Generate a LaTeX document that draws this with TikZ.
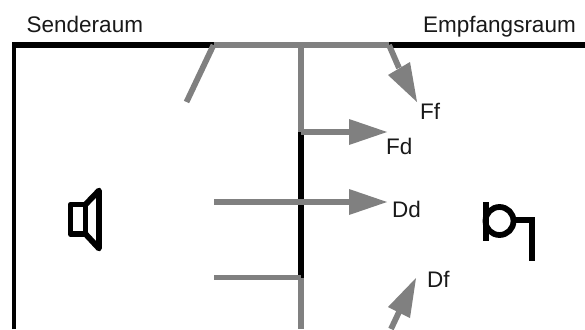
\documentclass[tikz,border=0pt]{standalone}
\usepackage{fontspec}
\setmainfont{Liberation Sans}
\begin{document}
\begin{tikzpicture}[x=1pt,y=-1pt,
  wallblack/.style={draw=black,line width=5.8pt},
  sidewall/.style={draw=black,line width=3.8pt},
  path gray/.style={draw=pathgray,line width=5.8pt},
  head/.style={fill=pathgray,draw=none},
  symbol/.style={draw=black,line width=5.8pt,line join=round},
  lbl/.style={anchor=base west,inner sep=0pt,font=\fontsize{22.5}{25}\selectfont,text=black!90}]
\definecolor{pathgray}{HTML}{808080}
\useasboundingbox (0,0) rectangle (585,329);
\fill[white] (0,0) rectangle (585,329);
% named points
\coordinate (tl) at (14.2,45);
\coordinate (bl) at (14.2,329);
\coordinate (fa) at (213.5,45);
\coordinate (fb) at (389,45);
\coordinate (tr) at (585,45);
\coordinate (wt) at (301,45);
\coordinate (wd) at (301,132);
\coordinate (wf) at (301,277.5);
\coordinate (wb) at (301,329);
\coordinate (fend) at (186.5,102);
\coordinate (fdend) at (350,132);
\coordinate (ddstart) at (214,202);
\coordinate (ddend) at (350,202);
\coordinate (dfstart) at (214,277.5);
\coordinate (ffend) at (399,68);
\coordinate (dfa) at (391,329);
\coordinate (dfb) at (399,312);
% black walls
\draw[sidewall] (bl) -- (tl);
\draw[wallblack] (12.3,45) -- (fa);
\draw[wallblack] (fb) -- (tr);
\draw[wallblack] (wd) -- (wf);
% gray paths
\draw[path gray] (fa) -- (fb);
\draw[path gray] (wt) -- (wd);
\draw[path gray] (fa) -- (fend);
\draw[path gray] (wf) -- (wb);
\draw[path gray] (wd) -- (fdend);
\draw[path gray] (ddstart) -- (ddend);
\draw[path gray] (dfstart) -- (wf);
\draw[path gray] (fb) -- (ffend);
\draw[path gray] (dfa) -- (dfb);
% arrow heads
\fill[head] (417,102) -- (388,75) -- (410,62) -- cycle;
\fill[head] (387,132) -- (349,119) -- (349,145) -- cycle;
\fill[head] (387,202) -- (349,189) -- (349,215) -- cycle;
\fill[head] (416,278) -- (388,307) -- (410,318) -- cycle;
% loudspeaker
\draw[symbol] (70.5,204.5) rectangle (85.5,234);
\draw[symbol] (85.5,204.5) -- (99,190.5) -- (99,248.5) -- (85.5,234);
% microphone
\draw[symbol] (499.5,221) circle (14);
\draw[symbol,line join=miter,line width=6.3pt] (485.8,202) -- (485.8,241);
\draw[symbol,line join=miter] (513,220) -- (532,220) -- (532,260.5);
% labels
\node[lbl] (sender) at (26.5,33) {Senderaum};
\node[lbl] (empf) at (423,33) {Empfangsraum};
\node[lbl] (ff) at (420,119) {Ff};
\node[lbl] (fd) at (386,154) {Fd};
\node[lbl] (dd) at (392,217) {Dd};
\node[lbl] (df) at (427,287) {Df};
\end{tikzpicture}
\end{document}
